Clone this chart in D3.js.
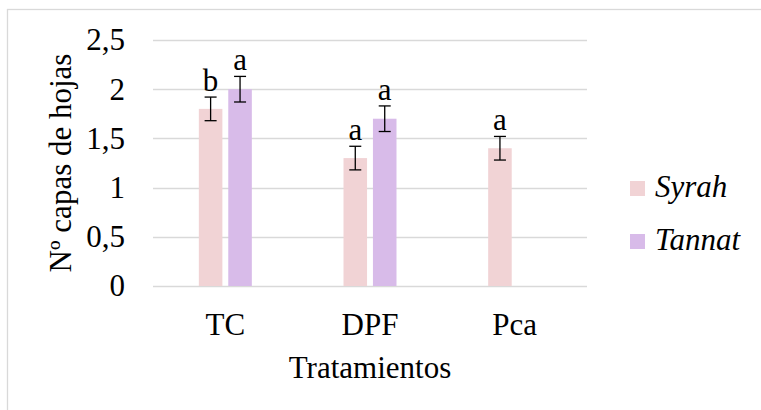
<!DOCTYPE html>
<html>
<head>
<meta charset="utf-8">
<script src="https://cdn.jsdelivr.net/npm/d3@7/dist/d3.min.js"></script>
<style>
  body { margin: 0; background: #fff; }
  svg, svg text { font-family: "Liberation Serif", "Times New Roman", serif !important; fill: #000; }
</style>
</head>
<body>
<div id="grafico"></div>
<script>
// Datos
var tratamientos = ["TC", "DPF", "Pca"];
var variedades = ["Syrah", "Tannat"];
var syrah = [1.8, 1.3, 1.4];
var tannat = [2.0, 1.7, null];
var errSyrah = [0.12, 0.12, 0.12];
var errTannat = [0.13, 0.13, null];
var letrasSyrah = ["b", "a", "a"];
var letrasTannat = ["a", "a", null];
var yTicks = [0, 0.5, 1, 1.5, 2, 2.5];
var colores = ["#f1d3d5", "#d8bbe9"];

var width = 761, height = 410;
var margin = { top: 40, left: 153, right: 174, bottom: 124 };
var innerW = width - margin.left - margin.right;
var innerH = height - margin.top - margin.bottom;
var fuente = '"Liberation Serif", "Times New Roman", serif';

var svg = d3.select("#grafico").append("svg")
    .attr("width", width)
    .attr("height", height)
    .style("font-family", fuente);

// borde del área del gráfico
svg.append("rect")
    .attr("x", 7.5).attr("y", 9.5)
    .attr("width", 770).attr("height", 420)
    .attr("fill", "none")
    .attr("stroke", "#d9d9d9")
    .attr("stroke-width", 1.3);

var g = svg.append("g")
    .attr("transform", "translate(" + margin.left + "," + margin.top + ")");

// filas por tratamiento
var data = tratamientos.map(function (t, i) {
    return {
        tratamiento: t,
        valores: [
            { serie: "Syrah", v: syrah[i], e: errSyrah[i], l: letrasSyrah[i] },
            { serie: "Tannat", v: tannat[i], e: errTannat[i], l: letrasTannat[i] }
        ].filter(function (d) { return d.v != null; })
    };
});

var x0 = d3.scaleBand().domain(tratamientos).range([0, innerW]);
var grupoW = 53;
var x1 = d3.scaleBand().domain(variedades)
    .range([(x0.bandwidth() - grupoW) / 2, (x0.bandwidth() + grupoW) / 2])
    .paddingInner(0.2);
var y = d3.scaleLinear().domain([0, 2.5]).range([innerH, 0]);
var color = d3.scaleOrdinal().domain(variedades).range(colores);

var es = d3.formatLocale({ decimal: ",", thousands: ".", grouping: [3], currency: ["", "€"] });

// líneas de división
g.append("g")
    .selectAll("line")
    .data(yTicks)
    .enter().append("line")
    .attr("x1", 0).attr("x2", innerW)
    .attr("y1", function (d) { return Math.round(y(d)) + 0.5; })
    .attr("y2", function (d) { return Math.round(y(d)) + 0.5; })
    .attr("stroke", "#d9d9d9")
    .attr("stroke-width", 1.3);

// eje Y
var ejeY = g.append("g")
    .call(d3.axisLeft(y).tickValues(yTicks).tickSize(0).tickPadding(28).tickFormat(es.format("~g")));
ejeY.attr("font-family", null).attr("font-size", null);
ejeY.select(".domain").remove();
ejeY.selectAll("text")
    .style("font-size", "31px")
    .style("font-family", fuente);

// eje X
var ejeX = g.append("g")
    .attr("transform", "translate(0," + innerH + ")")
    .call(d3.axisBottom(x0).tickSize(0));
ejeX.attr("font-family", null).attr("font-size", null);
ejeX.select(".domain").remove();
ejeX.selectAll("text")
    .attr("y", 49).attr("dy", 0)
    .style("font-size", "31px")
    .style("font-family", fuente);

// barras
var grupos = g.selectAll(".grupo")
    .data(data)
    .enter().append("g")
    .attr("class", "grupo")
    .attr("transform", function (d) { return "translate(" + x0(d.tratamiento) + ",0)"; });

grupos.selectAll("rect")
    .data(function (d) { return d.valores; })
    .enter().append("rect")
    .attr("x", function (d) { return x1(d.serie); })
    .attr("y", function (d) { return y(d.v); })
    .attr("width", x1.bandwidth())
    .attr("height", function (d) { return innerH - y(d.v); })
    .attr("fill", function (d) { return color(d.serie); });

// barras de error
var err = grupos.selectAll(".err")
    .data(function (d) { return d.valores; })
    .enter().append("g")
    .attr("class", "err")
    .attr("stroke", "#000")
    .attr("stroke-width", 1.3);

function cx(d) { return x1(d.serie) + x1.bandwidth() / 2; }

err.append("line")
    .attr("x1", cx).attr("x2", cx)
    .attr("y1", function (d) { return y(d.v + d.e); })
    .attr("y2", function (d) { return y(d.v - d.e); });
err.append("line")
    .attr("x1", function (d) { return cx(d) - 6; })
    .attr("x2", function (d) { return cx(d) + 6; })
    .attr("y1", function (d) { return y(d.v + d.e); })
    .attr("y2", function (d) { return y(d.v + d.e); });
err.append("line")
    .attr("x1", function (d) { return cx(d) - 6; })
    .attr("x2", function (d) { return cx(d) + 6; })
    .attr("y1", function (d) { return y(d.v - d.e); })
    .attr("y2", function (d) { return y(d.v - d.e); });

// letras de significancia
grupos.selectAll(".letra")
    .data(function (d) { return d.valores; })
    .enter().append("text")
    .attr("class", "letra")
    .attr("x", cx)
    .attr("y", function (d) { return y(d.v + d.e) - 6; })
    .attr("text-anchor", "middle")
    .style("font-size", "31px")
    .text(function (d) { return d.l; });

// título eje Y
svg.append("text")
    .attr("transform", "rotate(-90)")
    .attr("x", -(margin.top + innerH / 2))
    .attr("y", 71)
    .attr("text-anchor", "middle")
    .style("font-size", "31px")
    .text("Nº capas de hojas");

// título eje X
svg.append("text")
    .attr("x", margin.left + innerW / 2)
    .attr("y", 378)
    .attr("text-anchor", "middle")
    .style("font-size", "31px")
    .text("Tratamientos");

// leyenda
var ley = svg.append("g").selectAll("g")
    .data(variedades)
    .enter().append("g")
    .attr("transform", function (d, i) { return "translate(630," + (181 + i * 53) + ")"; });
ley.append("rect")
    .attr("width", 15).attr("height", 15)
    .attr("fill", function (d) { return color(d); });
ley.append("text")
    .attr("x", 25).attr("y", 16)
    .style("font-size", "31px")
    .style("font-style", "italic")
    .text(function (d) { return d; });
</script>
</body>
</html>
